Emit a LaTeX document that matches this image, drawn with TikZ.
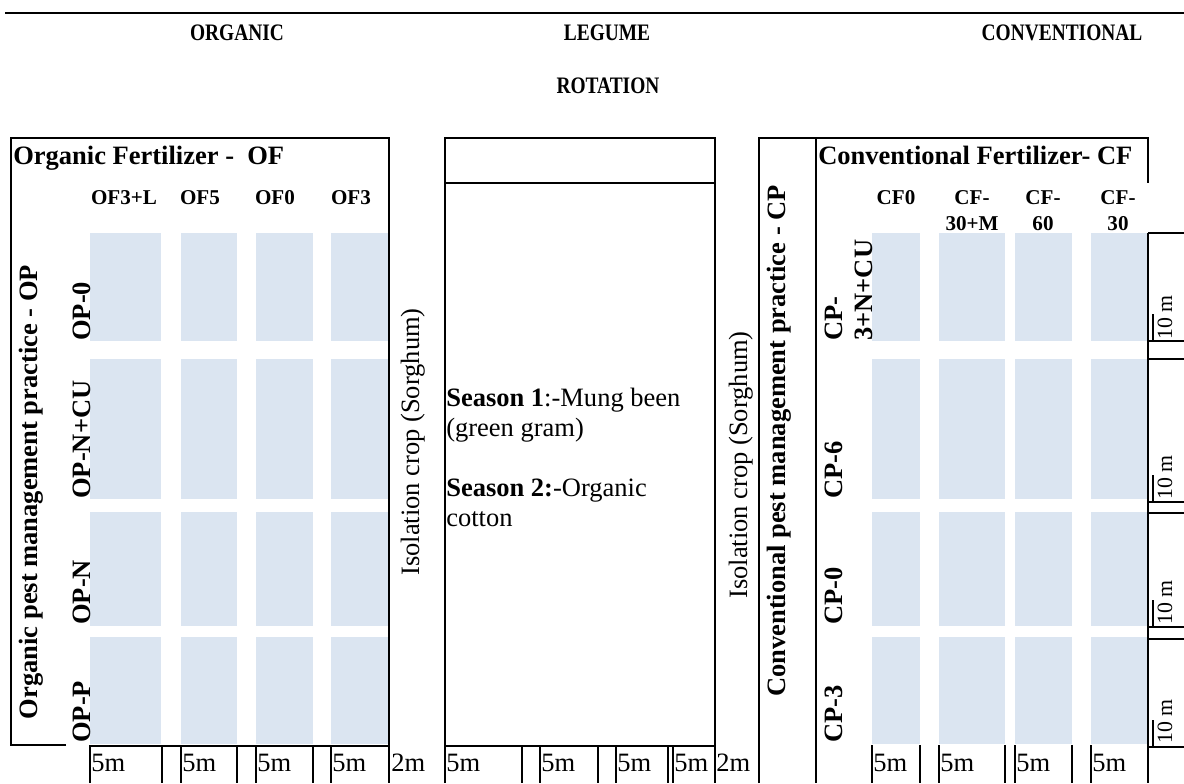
\documentclass[tikz,border=0pt]{standalone}
\usepackage{fontspec}
\setmainfont{Liberation Serif}
\usepackage{tikz}
\definecolor{plotblue}{RGB}{219,229,241}
\tikzset{
    wall/.style={line width=1.4pt},
    boldlbl/.style={inner sep=0pt, font=\fontsize{18.85}{21.3}\selectfont\bfseries},
    plainlbl/.style={inner sep=0pt, font=\fontsize{18.85}{21.3}\selectfont},
    colhead/.style={inner sep=0pt, align=center, font=\fontsize{15}{18.5}\selectfont\bfseries},
    sidelbl/.style={inner sep=0pt, rotate=90, font=\fontsize{15.5}{17}\selectfont},
    tophead/.style={inner sep=0pt, font=\fontsize{15}{17}\selectfont\bfseries},
}
\newcommand{\tallhead}[1]{\scalebox{0.92}[1.12]{#1}}

\begin{document}
\begin{tikzpicture}[x=0.025cm, y=-0.025cm]
\useasboundingbox (0,0) rectangle (1184,783);

\draw[line width=1.8pt] (5,13) -- (1184,13);
\node[tophead] (organic) at (237,33) {\tallhead{ORGANIC}};
\node[tophead] (legume) at (607,33) {\tallhead{LEGUME}};
\node[tophead] (rotation) at (608,86) {\tallhead{ROTATION}};
\node[tophead] (conventional) at (1062,33) {\tallhead{CONVENTIONAL}};

\foreach \ya/\yb in {233/341,359/499,512/626,637/744}
  \foreach \xa/\xb in {90/161,181/237,256/313,331/389,872/920,939/1005,1015/1072,1091/1147}
    \fill[plotblue] (\xa,\ya) rectangle (\xb,\yb);

\draw[wall] (66,745) -- (11,745) -- (11,138) -- (389,138) -- (389,783);
\draw[wall] (90,783) -- (90,746) -- (389,746);
\foreach \x in {162,181,237,256,313,331} \draw[wall] (\x,746) -- (\x,783);

\draw[wall] (445,783) -- (445,138) -- (715,138) -- (715,783);
\draw[wall] (445,183) -- (715,183);
\draw[wall] (445,746) -- (715,746);
\foreach \x in {522,540,598,616,668,673} \draw[wall] (\x,746) -- (\x,783);

\draw[wall] (759,783) -- (759,138) -- (1148,138) -- (1148,183);
\draw[wall] (816,138) -- (816,783);
\draw[wall] (1148,233) -- (1148,783);
\foreach \y in {233,341,359,502,513,627,639,747} \draw[wall] (1148,\y) -- (1184,\y);
\foreach \x in {872,920,939,1005,1015,1072,1091} \draw[wall] (\x,745) -- (\x,783);
\foreach \y in {341,502,627,747} \draw[line width=0.9pt] (1153,\y-27) -- (1153,\y);

\node[boldlbl, anchor=base west] (oftitle) at (13,164) {Organic Fertilizer -\ \ OF};
\node[colhead, anchor=north] (of3l) at (124,190) {OF3+L};
\node[colhead, anchor=north] (of5) at (200,190) {OF5};
\node[colhead, anchor=north] (of0) at (275,190) {OF0};
\node[colhead, anchor=north] (of3) at (351,190) {OF3};
\node[boldlbl, rotate=90, anchor=base] (opmain) at (37,492) {Organic pest management practice - OP};
\node[boldlbl, rotate=90, anchor=base west] (op0) at (90,341) {OP-0};
\node[boldlbl, rotate=90, anchor=base west] (opncu) at (90,499) {OP-N+CU};
\node[boldlbl, rotate=90, anchor=base west] (opn) at (90,625) {OP-N};
\node[boldlbl, rotate=90, anchor=base west] (opp) at (90,743) {OP-P};
\foreach \x/\n in {91/a,182/b,257/c,332/d}
  \node[plainlbl, anchor=base west] (left5m\n) at (\x,771) {5m};
\node[plainlbl, anchor=base west] (left2m) at (391,771) {2m};

\node[plainlbl, rotate=90, anchor=base] (isoleft) at (419,442) {Isolation crop (Sorghum)};
\node[plainlbl, anchor=north west, align=left] (season1) at (446,388) {\textbf{Season 1}:-Mung been\\(green gram)};
\node[plainlbl, anchor=north west, align=left] (season2) at (446,479) {\textbf{Season 2:}-Organic\\cotton};
\foreach \x/\n in {446/a,541/b,617/c,674/d}
  \node[plainlbl, anchor=base west] (mid5m\n) at (\x,771) {5m};
\node[plainlbl, anchor=base west] (mid2m) at (716,771) {2m};
\node[plainlbl, rotate=90, anchor=base] (isoright) at (747,465) {Isolation crop (Sorghum)};

\node[boldlbl, anchor=base west] (cftitle) at (818,164) {Conventional Fertilizer- CF};
\node[colhead, anchor=north] (cf0) at (896,190) {CF0};
\node[colhead, anchor=north] (cf30m) at (972,190) {CF-\\30+M};
\node[colhead, anchor=north] (cf60) at (1043,190) {CF-\\60};
\node[colhead, anchor=north] (cf30) at (1118,190) {CF-\\30};
\node[boldlbl, rotate=90, anchor=base] (cpmain) at (785,441) {Conventional pest management practice - CP};
\node[boldlbl, rotate=90, anchor=south west, align=left] (cp3ncu) at (873,341) {CP-\\3+N+CU};
\node[boldlbl, rotate=90, anchor=base west] (cp6) at (842,499) {CP-6};
\node[boldlbl, rotate=90, anchor=base west] (cp0) at (842,625) {CP-0};
\node[boldlbl, rotate=90, anchor=base west] (cp3) at (842,743) {CP-3};
\foreach \x/\n in {873/a,940/b,1016/c,1092/d}
  \node[plainlbl, anchor=base west] (right5m\n) at (\x,771) {5m};
\foreach \y/\n in {340/a,500/b,625/c,744/d}
  \node[sidelbl, anchor=base west] (ten\n) at (1172,\y) {10 m};
\end{tikzpicture}
\end{document}
